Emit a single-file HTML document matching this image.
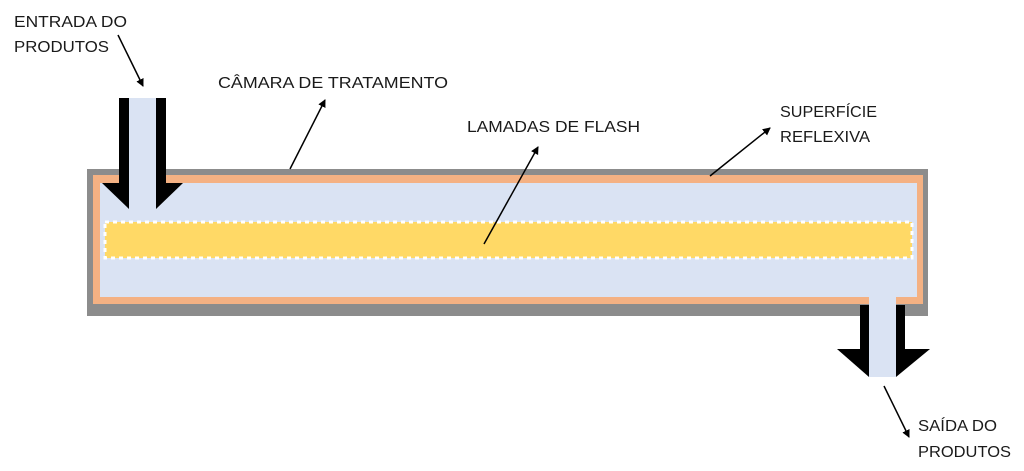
<!DOCTYPE html>
<html><head><meta charset="utf-8"><style>body{margin:0;background:#fff}svg{display:block}</style></head>
<body>
<svg width="1024" height="471" viewBox="0 0 1024 471" xmlns="http://www.w3.org/2000/svg">
<defs>
<marker id="ah" markerWidth="8" markerHeight="8" refX="7" refY="4" orient="auto" markerUnits="userSpaceOnUse">
<path d="M0,0 L8,4 L0,8 z" fill="#000"/>
</marker>
</defs>
<rect x="87" y="169" width="841" height="147" fill="#8c8c8c"/>
<rect x="93" y="175" width="830" height="129" fill="#f4b183"/>
<rect x="100" y="183" width="817" height="114" fill="#dae3f3"/>
<rect x="105" y="222" width="807" height="36" fill="#ffd966" stroke="#fff" stroke-width="3" stroke-dasharray="4,4"/>
<rect x="119" y="98" width="47" height="85" fill="#000"/>
<rect x="129" y="98" width="27" height="111" fill="#dae3f3"/>
<polygon points="102,183 129,183 129,209" fill="#000"/>
<polygon points="156,183 183,183 156,209" fill="#000"/>
<rect x="869" y="297" width="27" height="8" fill="#dae3f3"/>
<rect x="860" y="305" width="45" height="45" fill="#000"/>
<polygon points="837,349 869,349 869,377" fill="#000"/>
<polygon points="896,349 930,349 896,377" fill="#000"/>
<rect x="869" y="297" width="27" height="80" fill="#dae3f3"/>
<g stroke="#000" stroke-width="1.5" fill="none">
<line x1="118" y1="35" x2="143" y2="86" marker-end="url(#ah)"/>
<line x1="290" y1="169" x2="325" y2="100" marker-end="url(#ah)"/>
<line x1="484" y1="244" x2="538" y2="147" marker-end="url(#ah)"/>
<line x1="710" y1="176" x2="770" y2="128" marker-end="url(#ah)"/>
<line x1="884" y1="386" x2="909" y2="437" marker-end="url(#ah)"/>
</g>
<g font-family="Liberation Sans, sans-serif" font-size="16" fill="#1a1a1a">
<text x="14" y="27" textLength="113" lengthAdjust="spacingAndGlyphs">ENTRADA DO</text>
<text x="14" y="52" textLength="95" lengthAdjust="spacingAndGlyphs">PRODUTOS</text>
<text x="218" y="88" textLength="230" lengthAdjust="spacingAndGlyphs">CÂMARA DE TRATAMENTO</text>
<text x="467" y="132" textLength="173" lengthAdjust="spacingAndGlyphs">LAMADAS DE FLASH</text>
<text x="780" y="117" textLength="97" lengthAdjust="spacingAndGlyphs">SUPERFÍCIE</text>
<text x="780" y="142" textLength="90" lengthAdjust="spacingAndGlyphs">REFLEXIVA</text>
<text x="918" y="431" textLength="79" lengthAdjust="spacingAndGlyphs">SAÍDA DO</text>
<text x="918" y="457" textLength="93" lengthAdjust="spacingAndGlyphs">PRODUTOS</text>
</g>
</svg>
</body></html>
